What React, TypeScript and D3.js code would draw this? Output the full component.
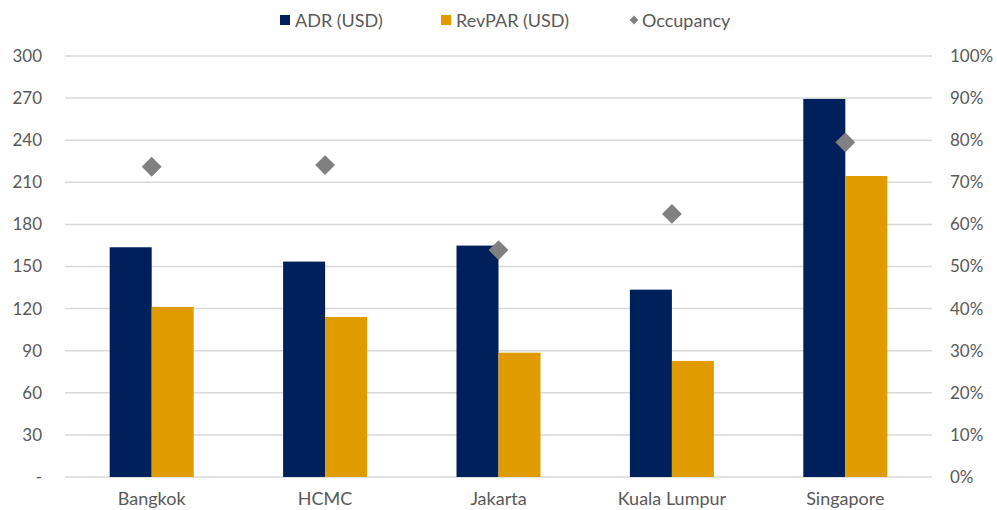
import React from "react"
import * as d3 from "d3"

const cities = ["Bangkok", "HCMC", "Jakarta", "Kuala Lumpur", "Singapore"]
const adr = [163.7, 153.5, 164.9, 133.5, 269.4]
const revpar = [121.2, 114, 88.6, 82.7, 214.5]
const occupancy = [0.737, 0.741, 0.539, 0.625, 0.795]
const leftTicks = [0, 30, 60, 90, 120, 150, 180, 210, 240, 270, 300]
const rightTicks = [0, 0.1, 0.2, 0.3, 0.4, 0.5, 0.6, 0.7, 0.8, 0.9, 1]

const width = 997
const height = 510
const font = "Lato, 'Open Sans', sans-serif"
const textColor = "#595959"
const navy = "#00205B"
const gold = "#E09B00"
const grey = "#808080"

const App = () => {
  const left = 65
  const right = 932
  const top = 56
  const bottom = 477

  const x = d3.scaleBand().domain(cities).range([left, right])
  const y = d3.scaleLinear().domain([0, 300]).range([bottom, top])
  const y2 = d3.scaleLinear().domain([0, 1]).range([bottom, top])
  const barW = 42
  const diamond = d3.symbol().type(d3.symbolDiamond2).size(250)()
  const legendDiamond = d3.symbol().type(d3.symbolDiamond2).size(50)()

  return (
    <svg
      width={width}
      height={height}
      style={{ position: "absolute", left: 0, top: 0, background: "#fff" }}
      fontFamily={font}
    >
      {leftTicks.map((t) => (
        <g key={"g" + t}>
          <line
            x1={left}
            x2={right}
            y1={y(t)}
            y2={y(t)}
            stroke="#d9d9d9"
            strokeWidth={1.5}
          />
          <text
            x={42}
            y={y(t)}
            dy="0.35em"
            textAnchor="end"
            fontSize={17}
            fill={textColor}
          >
            {t === 0 ? "-" : t}
          </text>
        </g>
      ))}
      {rightTicks.map((t) => (
        <text
          key={"r" + t}
          x={950}
          y={y2(t)}
          dy="0.35em"
          fontSize={17}
          fill={textColor}
        >
          {d3.format(".0%")(t)}
        </text>
      ))}
      {cities.map((c, i) => {
        const cx = x(c) + x.bandwidth() / 2
        return (
          <g key={c}>
            <rect
              x={cx - barW}
              y={y(adr[i])}
              width={barW}
              height={bottom - y(adr[i])}
              fill={navy}
            />
            <rect
              x={cx}
              y={y(revpar[i])}
              width={barW}
              height={bottom - y(revpar[i])}
              fill={gold}
            />
            <path
              d={diamond}
              transform={`translate(${cx},${y2(occupancy[i])})`}
              fill={grey}
            />
            <text
              x={cx}
              y={505}
              textAnchor="middle"
              fontSize={18}
              fill={textColor}
            >
              {c}
            </text>
          </g>
        )
      })}
      <g fontSize={18} fill={textColor}>
        <rect x={280} y={15} width={10} height={10} fill={navy} />
        <text x={295} y={27}>
          ADR (USD)
        </text>
        <rect x={441} y={15} width={10} height={10} fill={gold} />
        <text x={456} y={27}>
          RevPAR (USD)
        </text>
        <path d={legendDiamond} transform="translate(634,20)" fill={grey} />
        <text x={642} y={27}>
          Occupancy
        </text>
      </g>
    </svg>
  )
}

export default App
